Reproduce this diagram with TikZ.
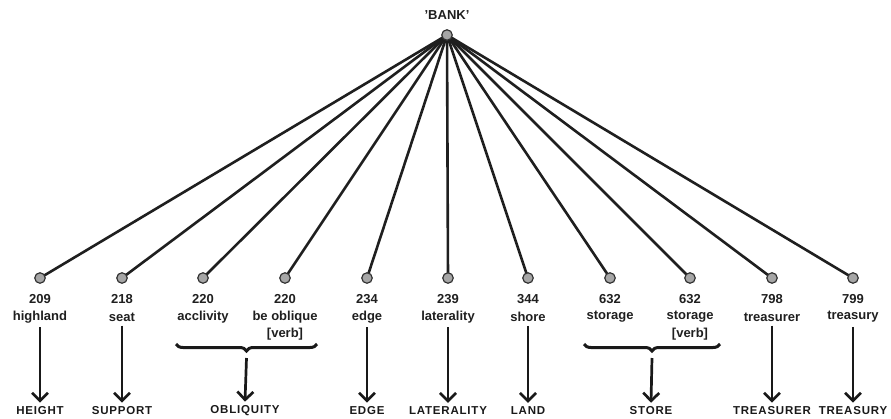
\documentclass[tikz,border=0pt]{standalone}
\usepackage{fontspec}
\setmainfont{Liberation Sans}
\usetikzlibrary{arrows.meta,decorations.pathreplacing}
\begin{document}
\begin{tikzpicture}[x=1pt,y=-1pt,
  dot/.style={circle,draw=black!80,fill=black!35,line width=1.2pt,minimum size=10.5pt,inner sep=0pt},
  edge/.style={line width=2.6pt,black!88},
  lbl/.style={font=\fontsize{13}{15}\selectfont\bfseries,align=center,inner sep=1pt,text=black!88},
  cat/.style={font=\fontsize{11.5}{13}\selectfont\bfseries\addfontfeature{LetterSpace=7},inner sep=1pt,text=black!90},
  arr/.style={line width=2.7pt,black!90,-{Straight Barb[length=8pt,width=16pt]}},
  brc/.style={line width=3pt,black!90,decorate,decoration={brace,mirror,amplitude=7pt}}]
\useasboundingbox (0,0) rectangle (891,418);
\node[lbl] (bank) at (447,15) {'BANK'};
\coordinate (root) at (447,35);
% connectors from the root to each leaf
\foreach \x in {40,122,203,285,367,448,528,610,690,772,853}{
  \draw[edge] (root) -- (\x,278);
}
\node[dot] (top) at (root) {};
\foreach \n/\x in {a/40,b/122,c/203,d/285,e/367,f/448,g/528,h/610,i/690,j/772,k/853}{
  \node[dot] (d\n) at (\x,278) {};
}
\node[lbl] (n209) at (40,299) {209};
\node[lbl] (w209) at (40,317) {highland};
\node[lbl] (n218) at (122,299) {218};
\node[lbl] (w218) at (122,317) {seat};
\node[lbl] (n220a) at (203,299) {220};
\node[lbl] (w220a) at (203,317) {acclivity};
\node[lbl] (n220b) at (285,299) {220};
\node[lbl] (w220b) at (285,317) {be oblique};
\node[lbl] (v220b) at (285,334) {[verb]};
\node[lbl] (n234) at (367,299) {234};
\node[lbl] (w234) at (367,317) {edge};
\node[lbl] (n239) at (448,299) {239};
\node[lbl] (w239) at (448,317) {laterality};
\node[lbl] (n344) at (528,299) {344};
\node[lbl] (w344) at (528,317) {shore};
\node[lbl] (n632a) at (610,299) {632};
\node[lbl] (w632a) at (610,317) {storage};
\node[lbl] (n632b) at (690,299) {632};
\node[lbl] (w632b) at (690,317) {storage};
\node[lbl] (v632b) at (690,334) {[verb]};
\node[lbl] (n798) at (772,299) {798};
\node[lbl] (w798) at (772,317) {treasurer};
\node[lbl] (n799) at (853,299) {799};
\node[lbl] (w799) at (853,317) {treasury};
% categories
\node[cat] (cHEIGHT) at (40,411) {HEIGHT};
\node[cat] (cSUPPORT) at (122,411) {SUPPORT};
\node[cat] (cOBL) at (245,411) {OBLIQUITY};
\node[cat] (cEDGE) at (367,411) {EDGE};
\node[cat] (cLAT) at (448,411) {LATERALITY};
\node[cat] (cLAND) at (528,411) {LAND};
\node[cat] (cSTORE) at (651,411) {STORE};
\node[cat] (cTRER) at (772,411) {TREASURER};
\node[cat] (cTRY) at (853,411) {TREASURY};
% braces
\coordinate (bl1) at (176,344);
\coordinate (br1) at (317,344);
\coordinate (bt1) at (246.5,358);
\draw[brc] (bl1) -- (br1);
\coordinate (bl2) at (584,344);
\coordinate (br2) at (720,344);
\coordinate (bt2) at (652,358);
\draw[brc] (bl2) -- (br2);
% arrows
\foreach \s/\t in {w209/cHEIGHT,w218/cSUPPORT,w234/cEDGE,w239/cLAT,w344/cLAND,w798/cTRER,w799/cTRY}{
  \draw[arr] ([yshift=-3pt]\s.south) -- ([yshift=3pt]\t.north);
}
\draw[arr] (bt1) -- ([yshift=3pt]cOBL.north);
\draw[arr] (bt2) -- ([yshift=3pt]cSTORE.north);
\end{tikzpicture}
\end{document}
